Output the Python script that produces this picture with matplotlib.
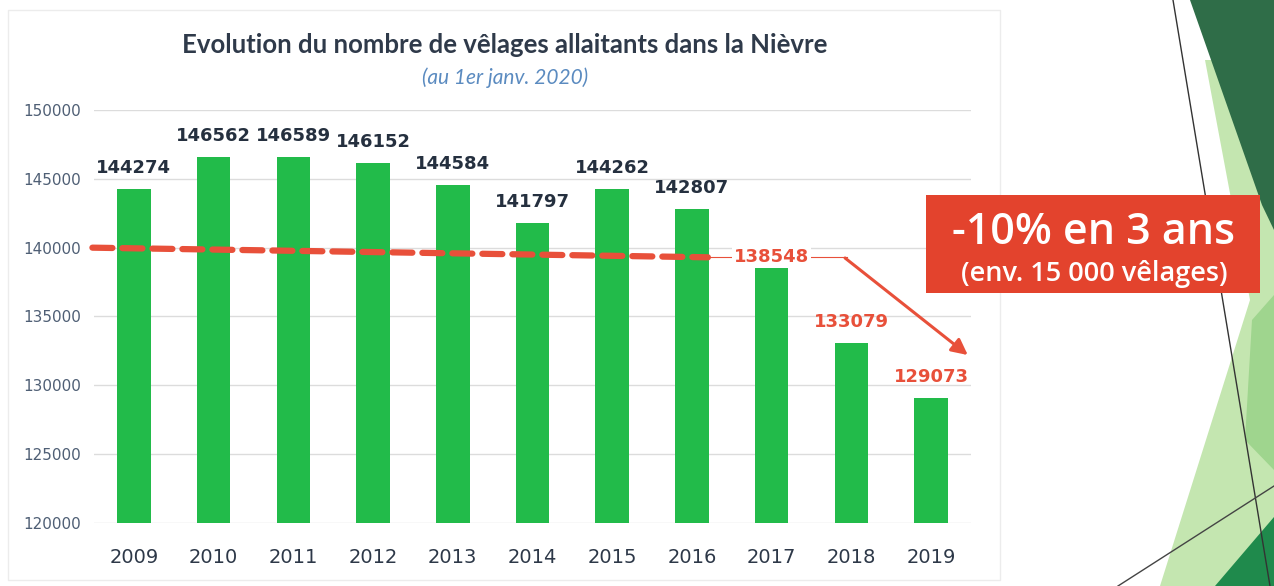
import matplotlib
matplotlib.use("Agg")
import matplotlib.pyplot as plt
from matplotlib.patches import Polygon, Rectangle

# ========== Data ==========
years = ["2009", "2010", "2011", "2012", "2013", "2014",
         "2015", "2016", "2017", "2018", "2019"]
velages = [144274, 146562, 146589, 146152, 144584, 141797,
           144262, 142807, 138548, 133079, 129073]
red_years = ["2017", "2018", "2019"]   # values highlighted in red
y_ticks = [120000, 125000, 130000, 135000, 140000, 145000, 150000]

# reference trend line (hand-drawn on the slide, slightly tilted by the scan)
trend_start = 140000
trend_end = 139300
arrow_end = 132200

title = "Evolution du nombre de vêlages allaitants dans la Nièvre"
subtitle = "(au 1er janv. 2020)"
box_line1 = "-10% en 3 ans"
box_line2 = "(env. 15 000 vêlages)"

# ========== Style ==========
W, H = 1274, 586
GREEN = "#22bb4a"
RED = "#e8503a"
BOX_RED = "#e3432d"
LABEL_DARK = "#25303f"
GRID = "#dcdcdc"

fig = plt.figure(figsize=(W / 100, H / 100), dpi=100)
fig.patch.set_facecolor("white")


def px(x, y):
    # pixel position (from top-left) -> figure fraction
    return (x / W, 1 - y / H)


# ========== Slide decoration (right side) ==========
def fig_poly(points, color, z=0):
    fig.patches.append(Polygon([px(x, y) for x, y in points], closed=True,
                               transform=fig.transFigure, facecolor=color,
                               edgecolor="none", zorder=z))

fig_poly([(1205, 60), (1250, 300), (1160, 586), (1274, 586), (1274, 60)], "#c4e6b0")
fig_poly([(1252, 320), (1274, 295), (1274, 470), (1245, 440)], "#9fd58e")
fig_poly([(1190, 0), (1274, 0), (1274, 230), (1262, 205)], "#2f6d48")
fig_poly([(1215, 586), (1274, 517), (1274, 586)], "#1f8a4c")
fig.lines.append(plt.Line2D([1173 / W, 1270 / W], [1, 0], transform=fig.transFigure,
                            color="#333333", lw=1))
fig.lines.append(plt.Line2D([1118 / W, 1274 / W], [px(0, 586)[1], px(0, 486)[1]],
                            transform=fig.transFigure, color="#444444", lw=1))

# faint chart frame
fig.patches.append(Rectangle(px(8, 580), 992 / W, 570 / H, transform=fig.transFigure,
                             facecolor="none", edgecolor="#ececec", lw=1))

# ========== Chart ==========
ax = fig.add_axes([94 / W, (H - 523) / H, (971 - 94) / W, (523 - 110) / H])
ax.set_facecolor("none")
x = list(range(len(years)))
ax.bar(x, velages, width=0.42, color=GREEN, zorder=3)

ax.set_ylim(120000, 150000)
ax.set_xlim(-0.5, len(years) - 0.5)
ax.set_yticks(y_ticks)
ax.set_yticklabels([str(v) for v in y_ticks], fontsize=11, color="#4f5f75")
ax.set_xticks(x)
ax.set_xticklabels(years, fontsize=14, color="#2d3848")
ax.tick_params(axis="both", length=0)
ax.tick_params(axis="x", pad=18)
ax.tick_params(axis="y", pad=9)
ax.grid(axis="y", color=GRID, lw=1, zorder=0)
for s in ax.spines.values():
    s.set_visible(False)

# dashed reference line at ~140000
i17 = years.index("2017")
ax.plot([-0.52, 7.2], [trend_start, trend_end], color=RED, lw=4.5,
        dashes=(3.2, 1.6), solid_capstyle="round", dash_capstyle="round",
        zorder=4, clip_on=False)
ax.plot([7.2, 8.95], [trend_end, trend_end], color=RED, lw=0.8, zorder=4)

# value labels (2017 sits on the reference line)
for xi, yr, v in zip(x, years, velages):
    if yr == "2017":
        ax.text(xi, trend_end, str(v), ha="center", va="center", fontsize=13,
                fontweight="bold", color=RED, zorder=6,
                bbox=dict(facecolor="white", edgecolor="none", pad=1.5))
        continue
    ax.annotate(str(v), (xi, v), xytext=(0, 15), textcoords="offset points",
                ha="center", va="center", fontsize=13, fontweight="bold",
                color=RED if yr in red_years else LABEL_DARK, zorder=6)

# arrow towards the drop
ax.annotate("", xy=(10.46, arrow_end), xytext=(8.92, trend_end - 50),
            arrowprops=dict(arrowstyle="-|>", color=RED, lw=2.2,
                            mutation_scale=24, shrinkA=0, shrinkB=0),
            annotation_clip=False, zorder=5)

# ========== Titles ==========
fig.text(*px(505, 45), title, ha="center", va="center", fontsize=18.5,
         fontweight="bold", family="Lato", color="#2f3a4a")
fig.text(*px(505, 78), subtitle, ha="center", va="center", fontsize=15,
         style="italic", family="Lato", color="#5b8bc0")

# ========== Red callout box ==========
fig.patches.append(Rectangle(px(926, 293), (1260 - 926) / W, (293 - 195) / H,
                             transform=fig.transFigure, facecolor=BOX_RED,
                             edgecolor="none", zorder=5))
fig.text(*px(1094, 232), box_line1, ha="center", va="center", fontsize=31,
         family="Open Sans", fontweight="semibold", color="white", zorder=6)
fig.text(*px(1094, 274), box_line2, ha="center", va="center", fontsize=19.5,
         family="Open Sans", fontweight="semibold", color="white", zorder=6)

fig.savefig("out.png", dpi=100, facecolor="white")
